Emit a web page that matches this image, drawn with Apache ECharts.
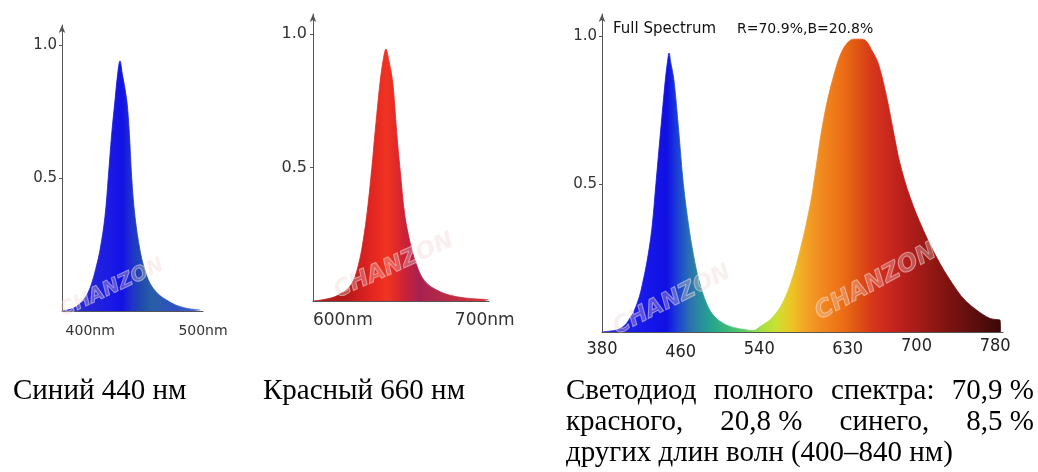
<!DOCTYPE html>
<html><head><meta charset="utf-8">
<script src="https://cdn.jsdelivr.net/npm/echarts@6/dist/echarts.min.js"></script>
<style>html,body{margin:0;padding:0;background:#fff}#c{width:1038px;height:472px}</style>
</head><body><div id="c"></div>
<script>
// ---------- data ----------
const blueWl  = [375, 380, 385, 390, 394, 398, 401.3, 405, 408.7, 413.1, 416, 419.1, 422, 424.3, 426.4, 428.5, 432.4, 434.7, 436.8, 439.7, 444.1, 448, 453, 460, 467.8, 476, 485.5, 492, 497.5];
const blueVal = [0, 0.004, 0.010, 0.024, 0.041, 0.068, 0.104, 0.16, 0.229, 0.355, 0.501, 0.668, 0.793, 0.89, 0.94, 0.89, 0.793, 0.668, 0.501, 0.355, 0.229, 0.16, 0.104, 0.065, 0.041, 0.022, 0.010, 0.006, 0.004];

const redWl  = [579, 585, 590, 594.5, 598, 602.7, 606, 608.6, 611, 613.3, 616.8, 620.4, 622.7, 626.2, 628.5, 630.4, 632.3, 635.2, 638, 640.3, 643.8, 648.6, 652, 655.6, 660, 666.2, 672, 680.3, 690, 700, 702.5];
const redVal = [0, 0.004, 0.009, 0.016, 0.026, 0.041, 0.062, 0.091, 0.135, 0.192, 0.317, 0.496, 0.630, 0.818, 0.905, 0.944, 0.905, 0.818, 0.630, 0.496, 0.317, 0.192, 0.135, 0.091, 0.062, 0.041, 0.027, 0.016, 0.009, 0.006, 0.005];

const fullWl  = [380, 388, 395, 400, 405.1, 408, 411.8, 417.9, 421, 425.5, 430.6, 434.9, 439.7, 444.4, 446.5, 448.2, 450, 453.2, 458, 462.7, 468.8, 474.6, 479, 483.8, 487.5, 491.6, 497, 503.1, 510, 518, 527.2, 534, 540.7, 550.9, 559.4, 564, 569.5, 574, 578.1, 582.5, 586.5, 593.3, 598.4, 603.5, 610.2, 619.4, 625, 631, 636, 640.4, 645, 649.3, 654, 661.1, 669.6, 676.3, 683.2, 693.3, 706.9, 723.8, 740.9, 750, 761.2, 768, 774.7, 781, 785, 785.5];
const fullVal = [0, 0.003, 0.007, 0.014, 0.030, 0.045, 0.064, 0.118, 0.16, 0.233, 0.345, 0.503, 0.682, 0.851, 0.91, 0.943, 0.91, 0.851, 0.682, 0.503, 0.345, 0.233, 0.17, 0.118, 0.088, 0.064, 0.044, 0.030, 0.019, 0.012, 0.007, 0.005, 0.018, 0.041, 0.074, 0.10, 0.142, 0.185, 0.232, 0.29, 0.345, 0.457, 0.570, 0.682, 0.795, 0.908, 0.955, 0.982, 0.99, 0.99, 0.99, 0.982, 0.955, 0.908, 0.795, 0.682, 0.570, 0.457, 0.345, 0.232, 0.142, 0.105, 0.074, 0.058, 0.046, 0.042, 0.040, 0];

const blueTicks = [400, 500];
const redTicks  = [600, 700];
const fullTicks = [380, 460, 540, 630, 700, 780];
const yTicks    = [0.5, 1.0];

const fullTitle = 'Full Spectrum';
const fullRatio = 'R=70.9%,B=20.8%';
const caption1 = 'Синий 440 нм';
const caption2 = 'Красный 660 нм';
const caption3Lines = [
  ['Светодиод', 'полного', 'спектра:', '70,9 %'],
  ['красного,', '20,8 %', 'синего,', '8,5 %'],
  ['других длин волн (400–840 нм)']
];

// ---------- styles ----------
const blueStops = [[375,'#3434cc'],[400,'#2424d6'],[418,'#1a1ae6'],[428,'#1212e4'],[436,'#1f2ed0'],[444,'#1e48b0'],[455,'#285fa4'],[475,'#3050c0'],[497.5,'#4565d0']];
const redStops  = [[579,'#c41a1a'],[600,'#b01818'],[614,'#d42020'],[624,'#e82a20'],[631,'#f03422'],[637,'#e22a28'],[644,'#c82238'],[654,'#a82050'],[670,'#b42a48'],[702.5,'#e03434']];
const fullStops = [[380,'#3a3ad0'],[398,'#2424dc'],[423,'#1818ec'],[446,'#1010e2'],[454,'#1a34dc'],[461,'#1e52c8'],[469,'#2a70b0'],[479,'#2a8aa0'],[489,'#25a090'],[500,'#30b080'],[514,'#44c070'],[528,'#64d060'],[543,'#a8e040'],[558,'#cce032'],[573,'#eec424'],[588,'#f2a224'],[603,'#f08a20'],[623,'#ee7016'],[638,'#e05812'],[653,'#d83a18'],[668,'#cc2a1e'],[688,'#b81e1a'],[708,'#9c1a16'],[728,'#821410'],[748,'#6a1010'],[768,'#520c0c'],[785.5,'#380808']];

function grad(stops, wl) {
  const a = wl[0], b = wl[wl.length - 1];
  return new echarts.graphic.LinearGradient(0, 0, 1, 0, stops.map(([w, c]) => ({
    offset: Math.min(1, Math.max(0, (w - a) / (b - a))), color: c
  })));
}
function pairs(wl, v) { return wl.map((w, i) => [w, v[i]]); }

const axisGray = '#555';
function yAx(gi, fs, mg) {
  return {
    type: 'value', gridIndex: gi, min: 0, max: 1.075,
    axisLine: { show: true, symbol: ['none', 'arrow'], symbolSize: [5, 8], lineStyle: { color: axisGray, width: 1 } },
    axisTick: { show: true, customValues: yTicks, length: 3, lineStyle: { color: axisGray } },
    axisLabel: { customValues: yTicks, formatter: v => v.toFixed(1), fontFamily: 'DejaVu Sans', fontSize: fs, color: '#333', margin: mg },
    splitLine: { show: false }
  };
}
function xAx(gi, min, max, ticks, fmt, font, mg, extra) {
  return Object.assign({
    type: 'value', gridIndex: gi, min: min, max: max,
    axisLine: { show: true, onZero: false, lineStyle: { color: axisGray, width: 1 } },
    axisTick: { show: false },
    splitLine: { show: false },
    axisLabel: Object.assign({ customValues: ticks, formatter: fmt, color: '#333', margin: mg }, font)
  }, extra || {});
}
function areaSeries(gi, wl, v, stops) {
  const g = grad(stops, wl);
  return {
    type: 'line', xAxisIndex: gi, yAxisIndex: gi, data: pairs(wl, v),
    smooth: 0.35, showSymbol: false, silent: true,
    lineStyle: { width: 0.8, color: g }, areaStyle: { color: g, opacity: 1 }
  };
}

const fullStyleIdx = ['m', 'l', 'm', 'm', 'h', 'h'];
const richBase = { fontFamily: '"Liberation Sans Narrow","DejaVu Sans Condensed",sans-serif', fontSize: 18, color: '#222' };

// ---------- graphics (texts) ----------
const serif = '29px "Liberation Serif", "Times New Roman", serif';
const cv = document.createElement('canvas').getContext('2d');
cv.font = serif;
const graphics = [];
function addText(txt, x, y, style) {
  graphics.push({ type: 'text', x: x, y: y, silent: true, style: Object.assign({ text: txt, fill: '#000', font: serif, verticalAlign: 'middle', align: 'left' }, style || {}) });
}
addText(caption1, 13, 391);
addText(caption2, 263, 391);
const lx0 = 566, lx1 = 1034, lineY = [391, 422, 453];
caption3Lines.forEach((words, li) => {
  if (li === caption3Lines.length - 1) { addText(words.join(' '), lx0, lineY[li]); return; }
  const ws = words.map(w => cv.measureText(w).width);
  const gap = (lx1 - lx0 - ws.reduce((a, b) => a + b, 0)) / (words.length - 1);
  let x = lx0;
  words.forEach((w, i) => { addText(w, x, lineY[li]); x += ws[i] + gap; });
});
addText(fullTitle, 613, 29, { font: '15px "DejaVu Sans", sans-serif', fill: '#111' });
addText(fullRatio, 737, 29, { font: '14px "DejaVu Sans", sans-serif', fill: '#111' });

// watermarks
[[112, 288, 20, 0.44], [394, 266, 23, 0.42], [672, 300, 23, 0.47], [876, 282, 24, 0.5]].forEach(([x, y, fs, r]) => {
  graphics.push({ type: 'text', x: x, y: y, rotation: r, silent: true, z: 100,
    style: { text: 'CHANZON', font: 'italic bold ' + fs + 'px "DejaVu Sans", sans-serif', fill: 'rgba(238,205,205,0.32)', stroke: 'rgba(255,255,255,0.45)', lineWidth: 1, align: 'center', verticalAlign: 'middle' } });
});

const option = {
  animation: false,
  backgroundColor: '#fff',
  grid: [
    { left: 62, top: 25, width: 141, height: 286, containLabel: false, outerBoundsMode: 'none' },
    { left: 313, top: 14, width: 176, height: 287, containLabel: false, outerBoundsMode: 'none' },
    { left: 602, top: 14, width: 401, height: 318, containLabel: false, outerBoundsMode: 'none' }
  ],
  xAxis: [
    xAx(0, 375, 500, blueTicks, v => v + 'nm', { fontFamily: 'DejaVu Sans', fontSize: 14 }, 13),
    xAx(1, 579, 703, redTicks, v => v + 'nm', { fontFamily: 'DejaVu Sans', fontSize: 17 }, 11),
    xAx(2, 380, 788, fullTicks, null, {}, 5, {
      axisLabel: {
        customValues: fullTicks, margin: 5,
        formatter: v => '{' + fullStyleIdx[fullTicks.indexOf(v)] + '|' + v + '}',
        rich: {
          h: Object.assign({ padding: [0, 0, 0, 0] }, richBase),
          m: Object.assign({ padding: [3, 0, 0, 0] }, richBase),
          l: Object.assign({ padding: [6, 0, 0, 0] }, richBase)
        }
      }
    })
  ],
  yAxis: [yAx(0, 15, 5), yAx(1, 16, 6), yAx(2, 15, 5)],
  series: [
    areaSeries(0, blueWl, blueVal, blueStops),
    areaSeries(1, redWl, redVal, redStops),
    areaSeries(2, fullWl, fullVal, fullStops)
  ],
  graphic: graphics
};
const chart = echarts.init(document.getElementById('c'), null, { renderer: 'canvas' });
chart.setOption(option);
</script></body></html>
